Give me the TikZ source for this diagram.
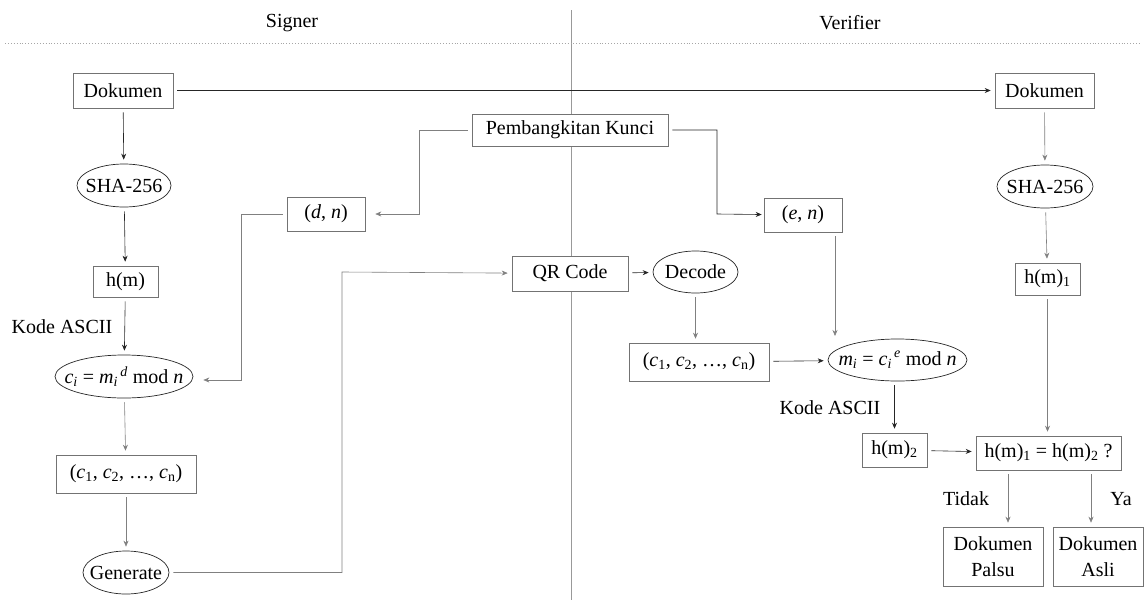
\documentclass[tikz,border=0pt]{standalone}
\usepackage{fontspec}
\setmainfont{Liberation Serif}
\usetikzlibrary{shapes.geometric,arrows.meta}

\newcommand{\vi}[1]{\textit{#1}}

\tikzset{
  box/.style = {draw = black!55, fill = white, line width = .6pt, inner sep = 0pt},
  oval/.style = {ellipse, draw = black!85, fill = white, line width = .7pt,
    inner xsep = -40pt, inner ysep = 0pt},
  arr/.style = {-{Stealth[length = 6pt, width = 5pt]}, line width = .6pt,
    black!85, shorten > = 4pt, shorten < = 4pt},
  arrg/.style = {arr, black!50}
}

\begin{document}
\begin{tikzpicture}
        [x = 1pt, y = -1pt, font = \fontsize{20}{24}\selectfont]

        \useasboundingbox (0,0) rectangle (1145,605);

        \draw[black!40, line width = .8pt] (571,10) -- (571,600);
        \draw[black!35, dotted, line width = .9pt] (5,43) -- (1140,43);
        \node (signer) at (292,23) {Signer};
        \node (verifier) at (850,23) {Verifier};

        \node[box, minimum width = 100pt, minimum height = 35pt] (dokL) at (123,90.5) {Dokumen};
        \node[oval, minimum width = 94pt, minimum height = 43pt] (shaL) at (124,185.5) {SHA-256};
        \node[box, minimum width = 65pt, minimum height = 31pt] (hm) at (125.5,281.5) {h(m)};
        \node[oval, minimum width = 138pt, minimum height = 43pt] (ci) at (124,376.5)
          {\vi{c}\textsubscript{\vi{i}} = \vi{m}\textsubscript{\vi{i}}\textsuperscript{\,\vi{d}} mod \vi{n}};
        \node[box, minimum width = 140pt, minimum height = 38pt] (cL) at (126,474)
          {(\vi{c}\textsubscript{1}, \vi{c}\textsubscript{2}, …, \vi{c}\textsubscript{n})};
        \node[oval, minimum width = 86pt, minimum height = 43pt] (gen) at (126,572.5) {Generate};
        \node[box, minimum width = 78pt, minimum height = 34pt] (dn) at (326,214) {(\vi{d}, \vi{n})};

        \node[box, minimum width = 196pt, minimum height = 32pt] (kunci) at (570,130) {Pembangkitan Kunci};
        \node[box, minimum width = 116pt, minimum height = 35pt] (qr) at (570,273.5) {QR Code};
        \node[oval, minimum width = 85pt, minimum height = 42pt] (dec) at (695.5,272) {Decode};

        \node[box, minimum width = 78pt, minimum height = 34pt] (en) at (803,215) {(\vi{e}, \vi{n})};
        \node[box, minimum width = 140pt, minimum height = 38pt] (cR) at (699,362)
          {(\vi{c}\textsubscript{1}, \vi{c}\textsubscript{2}, …, \vi{c}\textsubscript{n})};
        \node[oval, minimum width = 139pt, minimum height = 42pt] (mi) at (897.5,360)
          {\vi{m}\textsubscript{\vi{i}} = \vi{c}\textsubscript{\vi{i}}\textsuperscript{\,\vi{e}} mod \vi{n}};
        \node[box, minimum width = 65pt, minimum height = 34pt] (hm2) at (894.5,450) {h(m)\textsubscript{2}};

        \node[box, minimum width = 99pt, minimum height = 35pt] (dokR) at (1044.5,90.5) {Dokumen};
        \node[oval, minimum width = 96pt, minimum height = 43pt] (shaR) at (1045,186.5) {SHA-256};
        \node[box, minimum width = 65pt, minimum height = 32pt] (hm1) at (1047.5,279) {h(m)\textsubscript{1}};
        \node[box, minimum width = 145pt, minimum height = 34pt] (eq) at (1048.5,453)
          {h(m)\textsubscript{1} = h(m)\textsubscript{2} ?};
        \node[box, minimum width = 100pt, minimum height = 59pt, align = center] (palsu) at (993,556.5)
          {Dokumen\\[2pt]Palsu};
        \node[box, minimum width = 90pt, minimum height = 59pt, align = center] (asli) at (1098,556.5)
          {Dokumen\\[2pt]Asli};

        \node (asciiL) at (62,327) {Kode ASCII};
        \node (asciiR) at (830,408) {Kode ASCII};
        \node (tidak) at (966,499) {Tidak};
        \node (ya) at (1121,499) {Ya};

        \draw[arr] (dokL) -- (dokR);
        \draw[arr] (dokL) -- (shaL);
        \draw[arr] (shaL) -- (hm);
        \draw[arr] (hm) -- (ci);
        \draw[arrg] (ci) -- (cL);
        \draw[arrg] (cL) -- (gen);
        \draw[arrg] (gen) -| (342,272) -- (qr);
        \draw[arrg, shorten > = 10pt] (dn) -| (241,380) -- (ci.east |- 0,380);
        \draw[arrg, shorten > = 10pt] (kunci) -| (419,214) -- (dn);
        \draw[arr, shorten > = 2pt] (kunci) -| (717,214) -- (en);
        \draw[arr] (qr) -- (dec);
        \draw[arrg] (dec) -- (dec |- cR.north);
        \draw[arr] (cR) -- (mi);
        \draw[arrg] (835,232) -- (835,340);
        \draw[arr] (mi.south -| hm2) -- (hm2);
        \draw[arr] (hm2) -- (eq);
        \draw[arrg] (dokR) -- (shaR);
        \draw[arrg] (shaR) -- (hm1);
        \draw[arrg] (hm1) -- (hm1 |- eq.north);
        \draw[arrg] (eq.south -| 1008,0) -- (palsu.north -| 1008,0);
        \draw[arrg] (eq.south -| 1091,0) -- (asli.north -| 1091,0);
      \end{tikzpicture}
\end{document}
